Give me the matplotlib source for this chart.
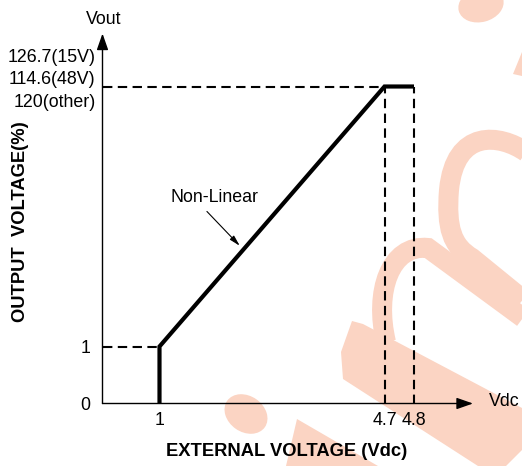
import numpy as np
import matplotlib
matplotlib.use('Agg')
import matplotlib.pyplot as plt
from matplotlib.patches import Ellipse, Polygon, PathPatch
from matplotlib.path import Path

# ----------------------------------------------
# data
vdc = [1, 1, 4.7, 4.8]           # external voltage (Vdc)
vout = [0, 1, 114.6, 114.6]      # output voltage (%)
x_ticks = [1, 4.7, 4.8]
x_tick_labels = ['1', '4.7', '4.8']
y_ticks = [0, 1]
y_tick_labels = ['0', '1']
top_labels = ['126.7(15V)', '114.6(48V)', '120(other)']

plt.rcParams['font.family'] = ['Liberation Sans', 'DejaVu Sans']
W, H = 522, 466
FS = 12.8
wm = '#fbd4c3'

fig = plt.figure(figsize=(W / 100, H / 100), dpi=100)

# ----------------------------------------------
# watermark in the background (pixel coords, y down)
bg = fig.add_axes([0, 0, 1, 1], zorder=0)
bg.set_xlim(0, W)
bg.set_ylim(H, 0)
bg.axis('off')

bg.add_patch(Ellipse((246, 414), 46, 36, angle=35, color=wm, lw=0))
bg.add_patch(Ellipse((481, 5), 46, 34, angle=-15, color=wm, lw=0))
bg.add_patch(Polygon([(297, 419), (286, 466), (378, 466)], color=wm, lw=0))
bg.add_patch(Polygon([(513, 74), (522, 52), (522, 76)], color=wm, lw=0))
bg.add_patch(Polygon([(352, 321), (363, 324), (522, 408), (522, 450), (506, 466),
                      (478, 466), (343, 379), (341, 352)], color=wm, lw=0))

upper = Path([(526, 152), (500, 134), (455, 128), (449, 190), (446, 228), (452, 246),
              (472, 258), (526, 302)],
             [Path.MOVETO, Path.CURVE4, Path.CURVE4, Path.CURVE4, Path.CURVE4, Path.CURVE4,
              Path.CURVE4, Path.LINETO])
bg.add_patch(PathPatch(upper, fill=False, ec=wm, lw=20 * 0.72, capstyle='butt'))
lower = Path([(386, 342), (374, 292), (390, 244), (428, 248), (526, 320)],
             [Path.MOVETO, Path.CURVE4, Path.CURVE4, Path.CURVE4, Path.LINETO])
bg.add_patch(PathPatch(lower, fill=False, ec=wm, lw=20 * 0.72, capstyle='butt'))

# ----------------------------------------------
# schematic (piecewise linear) axes
x_br = [0, 1, 4.7, 4.8, 5.4]
x_px = [0, 57, 282, 311.5, 370.5]
y_br = [0, 1, 114.6, 130]
y_px = [0, 57, 317, 370]

ax = fig.add_axes([102.5 / W, 62.5 / H, 370.5 / W, 370 / H], zorder=1)
ax.patch.set_visible(False)
ax.set_xscale('function', functions=(lambda v: np.interp(v, x_br, x_px),
                                     lambda p: np.interp(p, x_px, x_br)))
ax.set_yscale('function', functions=(lambda v: np.interp(v, y_br, y_px),
                                     lambda p: np.interp(p, y_px, y_br)))
ax.set_xlim(0, 5.4)
ax.set_ylim(0, 130)
for s in ax.spines.values():
    s.set_visible(False)

# axis arrows
arr = dict(arrowstyle='-|>,head_length=0.4,head_width=0.14', lw=1.0, color='black',
           mutation_scale=25, shrinkA=0, shrinkB=0)
ax.annotate('', xy=(0, 1), xytext=(0, 0), xycoords='axes fraction', arrowprops=arr)
ax.annotate('', xy=(1, 0), xytext=(0, 0), xycoords='axes fraction', arrowprops=arr)

# dashed guides
dash = dict(color='black', lw=1.5, dashes=(4.5, 2.6))
ax.plot([0, vdc[1]], [vout[1], vout[1]], **dash)
ax.plot([0, vdc[2]], [vout[2], vout[2]], **dash)
ax.plot([vdc[2], vdc[2]], [0, vout[2]], **dash)
ax.plot([vdc[3], vdc[3]], [0, vout[3]], **dash)

# curve
ax.plot(vdc, vout, color='black', lw=3.0, solid_joinstyle='miter', solid_capstyle='butt')

ax.set_xticks(x_ticks)
ax.set_xticklabels(x_tick_labels)
ax.set_yticks(y_ticks)
ax.set_yticklabels(y_tick_labels)
ax.tick_params(length=0, labelsize=FS)
ax.tick_params(axis='x', pad=6)
ax.tick_params(axis='y', pad=9)

for lab, dy in zip(top_labels, [21, 5, -11.5]):
    ax.annotate(lab, xy=(0, vout[2]), xycoords=('axes fraction', 'data'),
                xytext=(-5, dy), textcoords='offset points', ha='right', va='center',
                fontsize=FS)

# Non-Linear callout
ax.text(1.9, 66, 'Non-Linear', fontsize=FS, ha='center', va='center')
ax.annotate('', xy=(2.32, 45), xytext=(1.78, 60),
            arrowprops=dict(arrowstyle='-|>,head_length=0.5,head_width=0.13', lw=0.8,
                            color='black', shrinkA=0, shrinkB=0, mutation_scale=FS))

fig.text(104 / W, 1 - 19 / H, 'Vout', fontsize=FS, ha='center', va='center')
fig.text(489 / W, 1 - 401 / H, 'Vdc', fontsize=FS, ha='left', va='center')
fig.text(287 / W, 1 - 452 / H, 'EXTERNAL VOLTAGE (Vdc)', fontsize=13.2, fontweight='bold',
         ha='center', va='center')
fig.text(21 / W, 1 - 222 / H, 'OUTPUT  VOLTAGE(%)', fontsize=13.2, fontweight='bold',
         rotation=90, ha='center', va='center')

fig.savefig('out.png', dpi=100)
